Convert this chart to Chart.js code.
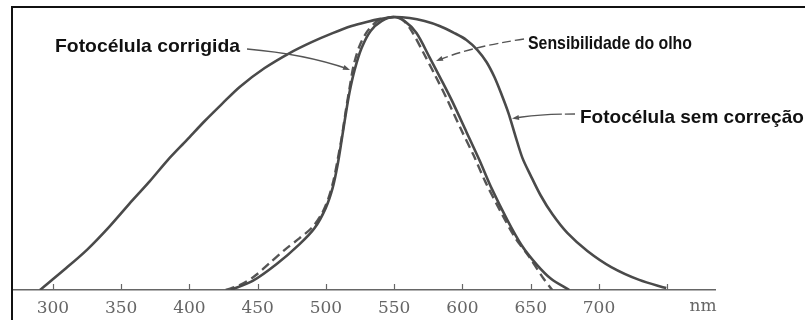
<!DOCTYPE html>
<html>
<head>
<meta charset="utf-8">
<script src="https://cdn.jsdelivr.net/npm/chart.js@4.4.1/dist/chart.umd.min.js"></script>
<style>
  html, body { margin: 0; padding: 0; background: #ffffff; }
  #wrap { position: relative; width: 805px; height: 320px; }
  canvas { display: block; }
</style>
</head>
<body>
<div id="wrap"><canvas id="c" width="805" height="320"></canvas></div>
<script>
// ---- data ----
const tickNm = [300, 350, 400, 450, 500, 550, 600, 650, 700, 750];
const tickLabels = ['300', '350', '400', '450', '500', '550', '600', '650', '700', ''];
const unitLabel = 'nm';

const seriesNames = ['Fotocélula sem correção', 'Sensibilidade do olho', 'Fotocélula corrigida'];

const wideNm  = [290.5, 308.0, 324.9, 341.7, 358.5, 371.0, 384.1, 398.0, 411.2, 423.7, 436.8, 455.1, 473.4, 489.5, 504.9, 518.8, 529.8, 540.0, 550.2, 561.2, 572.2, 583.2, 594.1, 602.9, 611.0, 617.6, 623.4, 628.5, 633.7, 638.8, 643.9, 649.8, 657.1, 665.8, 676.8, 691.5, 709.0, 729.5, 749.3];
const wideVal = [0, 0.073, 0.147, 0.234, 0.330, 0.399, 0.476, 0.549, 0.619, 0.681, 0.744, 0.813, 0.868, 0.908, 0.941, 0.967, 0.982, 0.993, 1.0, 0.996, 0.985, 0.967, 0.941, 0.916, 0.879, 0.835, 0.780, 0.718, 0.648, 0.564, 0.484, 0.421, 0.348, 0.278, 0.209, 0.143, 0.084, 0.037, 0.007];

const eyeNm  = [430.2, 446.3, 463.9, 480.7, 491.7, 499.8, 504.9, 508.5, 511.5, 514.4, 517.3, 521.0, 526.1, 532.7, 540.7, 549.5, 557.6, 566.3, 575.8, 584.6, 592.7, 602.9, 612.4, 621.2, 632.9, 643.2, 654.1, 665.1, 678.3];
const eyeVal = [0, 0.033, 0.095, 0.168, 0.227, 0.300, 0.374, 0.458, 0.549, 0.641, 0.725, 0.806, 0.886, 0.949, 0.985, 1.0, 0.985, 0.941, 0.853, 0.769, 0.689, 0.579, 0.476, 0.374, 0.256, 0.165, 0.095, 0.040, 0];

const corrNm  = [426.6, 436.8, 447.8, 458.8, 469.8, 480.7, 489.5, 496.8, 501.9, 505.6, 508.5, 511.5, 514.4, 517.3, 520.2, 524.6, 530.5, 537.8, 548.8, 555.4, 562.7, 571.5, 580.2, 588.3, 598.5, 608.0, 616.8, 628.5, 638.8, 649.0, 658.5, 665.8];
const corrVal = [0, 0.018, 0.051, 0.099, 0.147, 0.190, 0.227, 0.278, 0.337, 0.403, 0.476, 0.557, 0.652, 0.740, 0.821, 0.894, 0.949, 0.985, 1.0, 0.993, 0.949, 0.868, 0.784, 0.703, 0.593, 0.495, 0.396, 0.282, 0.190, 0.121, 0.048, 0];

const toPts = (xs, ys) => xs.map((x, i) => ({ x: x, y: ys[i] }));

// ---- decorations plugin ----
const deco = {
  id: 'deco',
  afterDraw(chart) {
    const ctx = chart.ctx;
    const xs = chart.scales.x;
    const area = chart.chartArea;
    ctx.save();
    // frame (top + left)
    ctx.strokeStyle = '#111';
    ctx.lineWidth = 2;
    ctx.beginPath();
    ctx.moveTo(12, 320);
    ctx.lineTo(12, 7);
    ctx.lineTo(805, 7);
    ctx.stroke();

    // inward tick marks
    ctx.strokeStyle = '#666';
    ctx.lineWidth = 1.2;
    tickNm.forEach(v => {
      const px = Math.round(xs.getPixelForValue(v)) + 0.5;
      ctx.beginPath();
      ctx.moveTo(px, area.bottom);
      ctx.lineTo(px, area.bottom - 6);
      ctx.stroke();
    });

    // unit label
    ctx.fillStyle = '#666';
    ctx.font = '17px "DejaVu Serif"';
    ctx.textAlign = 'center';
    ctx.textBaseline = 'middle';
    ctx.fillText(unitLabel, 703, 307);

    // annotation texts
    function drawText(txt, x, y, targetW) {
      ctx.save();
      ctx.font = 'bold 19px "Liberation Sans"';
      ctx.fillStyle = '#111';
      ctx.textAlign = 'left';
      ctx.textBaseline = 'alphabetic';
      const w = ctx.measureText(txt).width;
      const sx = targetW ? targetW / w : 1;
      ctx.translate(x, y);
      ctx.scale(sx, 1);
      ctx.fillText(txt, 0, 0);
      ctx.restore();
    }
    drawText(seriesNames[2], 55, 52, 185);
    drawText(seriesNames[1], 528, 49, 164);
    drawText(seriesNames[0], 580, 123, 0);

    // leader lines with arrowheads
    function arrowHead(x, y, dx, dy) {
      const len = Math.hypot(dx, dy);
      const ux = dx / len, uy = dy / len;
      const s = 7, w = 2.6;
      ctx.beginPath();
      ctx.moveTo(x, y);
      ctx.lineTo(x - ux * s - uy * w, y - uy * s + ux * w);
      ctx.lineTo(x - ux * s + uy * w, y - uy * s - ux * w);
      ctx.closePath();
      ctx.fill();
    }
    ctx.strokeStyle = '#555';
    ctx.fillStyle = '#555';
    ctx.lineWidth = 1.4;

    // 1: Fotocélula corrigida
    ctx.setLineDash([]);
    ctx.beginPath();
    ctx.moveTo(247, 49);
    ctx.quadraticCurveTo(305, 54, 348, 69);
    ctx.stroke();
    arrowHead(350, 70, 2, 0.8);

    // 2: Sensibilidade do olho
    ctx.setLineDash([9, 4]);
    ctx.beginPath();
    ctx.moveTo(524, 39);
    ctx.quadraticCurveTo(470, 47, 439, 60);
    ctx.stroke();
    ctx.setLineDash([]);
    arrowHead(436, 61, -2, 0.8);

    // 3: Fotocélula sem correção
    ctx.setLineDash([10, 3, 40, 0]);
    ctx.beginPath();
    ctx.moveTo(575, 114);
    ctx.quadraticCurveTo(540, 114, 515, 118);
    ctx.stroke();
    ctx.setLineDash([]);
    arrowHead(512, 118.5, -2, 0.3);

    ctx.restore();
  }
};

new Chart(document.getElementById('c'), {
  type: 'line',
  data: {
    datasets: [
      {
        label: seriesNames[0],
        data: toPts(wideNm, wideVal),
        borderColor: '#4a4a4a',
        borderWidth: 2.6,
        pointRadius: 0,
        fill: false,
        tension: 0.3
      },
      {
        label: seriesNames[1],
        data: toPts(eyeNm, eyeVal),
        borderColor: '#4a4a4a',
        borderWidth: 2.6,
        pointRadius: 0,
        fill: false,
        tension: 0.3
      },
      {
        label: seriesNames[2],
        data: toPts(corrNm, corrVal),
        borderColor: '#555555',
        borderWidth: 2.4,
        borderDash: [9, 5],
        pointRadius: 0,
        fill: false,
        tension: 0.3
      }
    ]
  },
  options: {
    responsive: false,
    animation: false,
    events: [],
    layout: { padding: { left: 12, right: 90, top: 7, bottom: 0 } },
    plugins: { legend: { display: false }, tooltip: { enabled: false } },
    scales: {
      x: {
        type: 'linear',
        min: 270,
        max: 785,
        afterBuildTicks: (s) => { s.ticks = tickNm.map(v => ({ value: v })); },
        afterFit: (s) => { s.height = 30; },
        grid: { display: false, drawTicks: false },
        border: { display: true, color: '#666', width: 1.5 },
        ticks: {
          autoSkip: false,
          maxRotation: 0,
          padding: 8,
          color: '#666',
          font: { family: '"DejaVu Serif"', size: 17 },
          callback: (v) => { const i = tickNm.indexOf(v); return i >= 0 ? tickLabels[i] : ''; }
        }
      },
      y: {
        display: false,
        min: 0,
        max: 1.0366
      }
    }
  },
  plugins: [deco]
});
</script>
</body>
</html>
